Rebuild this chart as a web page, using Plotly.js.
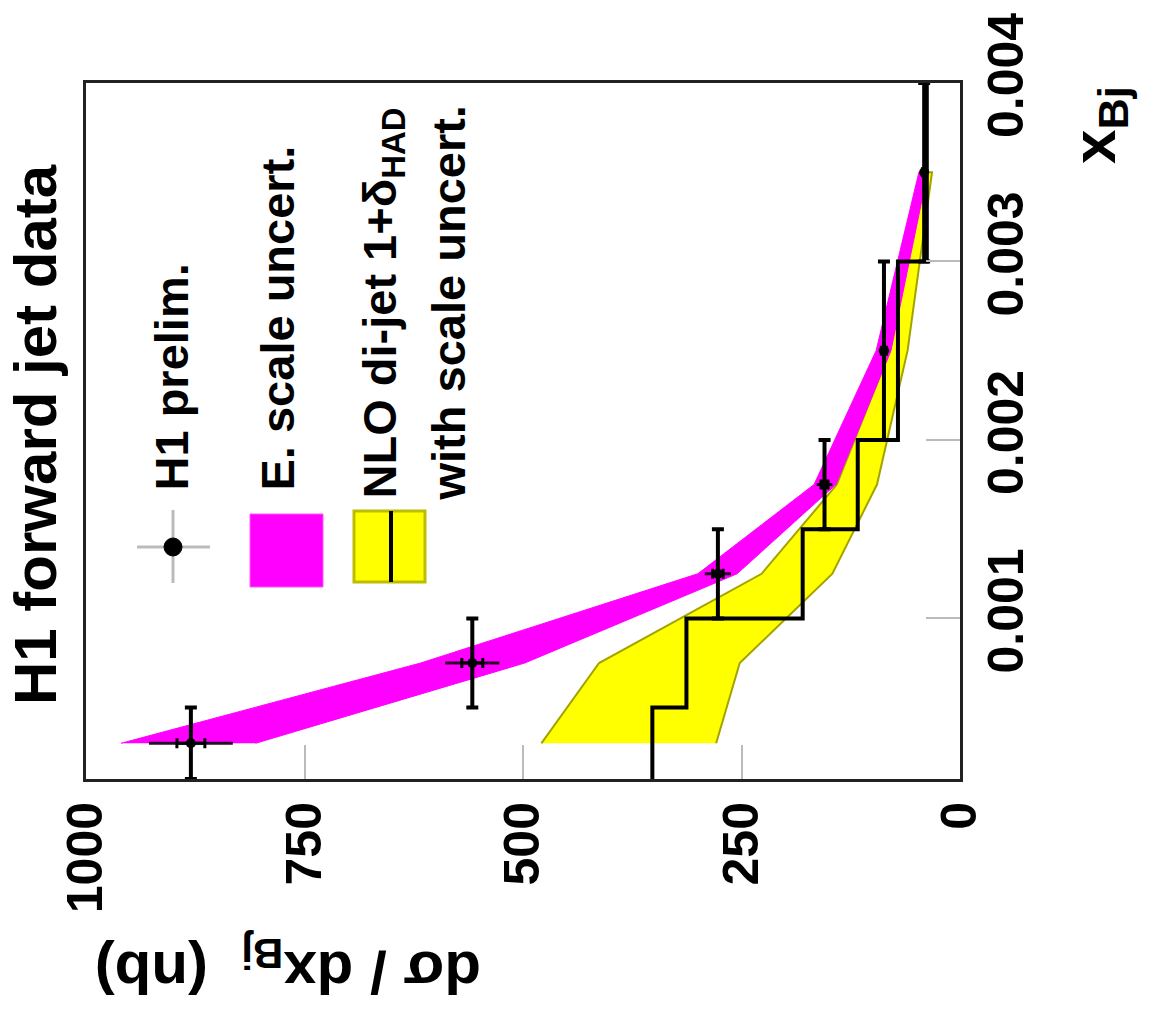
<!DOCTYPE html>
<html>
<head>
<meta charset="utf-8">
<script src="https://cdn.plot.ly/plotly-3.0.1.min.js"></script>
<style>
html,body{margin:0;padding:0;background:#fff;}
#chart{width:1151px;height:1025px;}
</style>
</head>
<body>
<div id="chart"></div>
<script>
// ---- data (x_Bj bins, cross sections in nb) ----
const binLo = [0.0001, 0.0005, 0.001, 0.0015, 0.002, 0.003];
const binHi = [0.0005, 0.001, 0.0015, 0.002, 0.003, 0.004];
const xBj   = [0.0003, 0.00075, 0.00125, 0.00175, 0.0025, 0.0035];
const h1Val  = [880, 558, 277, 155, 87, 41];
const h1Tot  = [48, 31, 15, 9, 6, 4];
const h1Stat = [16, 12, 6, 4, 3, 2];
const escUp = [960, 617, 300, 167, 96, 47];
const escDn = [806, 498, 255, 142, 79, 37];
const nloVal = [352, 313, 180, 117, 71, 38];
const nloUp  = [479, 413, 227, 141, 80, 42];
const nloDn  = [279, 252, 146, 95, 60, 32];
const sigTicks = [0, 250, 500, 750, 1000];
const sigTickText = ['0', '250', '500', '750', '1000'];
const xTicks = [0.001, 0.002, 0.003, 0.004];
const xTickText = ['0.001', '0.002', '0.003', '0.004'];

const FONT = 'Liberation Sans, Arial, Helvetica, sans-serif';

// plot area in page pixels (picture is the rotated H1 figure)
const L = 86, R = 960, T = 83, B = 779;
const px = v => (v - L) / (R - L);
const py = v => (B - v) / (B - T);

// bands as closed polygons
const escX = escUp.concat(escDn.slice().reverse());
const escY = xBj.concat(xBj.slice().reverse());
const nloBandX = nloUp.concat(nloDn.slice().reverse());
const nloBandY = xBj.concat(xBj.slice().reverse());

// step histogram
const stepX = [], stepY = [];
nloVal.forEach((v, i) => { stepX.push(v, v); stepY.push(binLo[i], binHi[i]); });

const binMinus = xBj.map((x, i) => x - binLo[i]);
const binPlus  = xBj.map((x, i) => binHi[i] - x);

const traces = [
  { x: nloBandX, y: nloBandY, type: 'scatter', mode: 'lines', fill: 'toself',
    fillcolor: '#ffff00', line: { color: '#a3a300', width: 2 }, hoverinfo: 'skip', showlegend: false },
  { x: escX, y: escY, type: 'scatter', mode: 'lines', fill: 'toself',
    fillcolor: '#ff00ff', line: { color: '#ff00ff', width: 1 }, hoverinfo: 'skip', showlegend: false },
  { x: stepX, y: stepY, type: 'scatter', mode: 'lines',
    line: { color: '#000', width: 4 }, showlegend: false },
  { x: h1Val, y: xBj, type: 'scatter', mode: 'markers',
    marker: { size: 1, color: '#000' },
    error_x: { type: 'data', array: h1Tot, visible: true, color: '#2a0a2a', thickness: 3, width: 0 },
    showlegend: false },
  { x: h1Val, y: xBj, type: 'scatter', mode: 'markers',
    marker: { size: 10, color: '#000' },
    error_x: { type: 'data', array: h1Stat, visible: true, color: '#000', thickness: 3, width: 5 },
    error_y: { type: 'data', symmetric: false, array: binPlus, arrayminus: binMinus, visible: true,
               color: '#000', thickness: 4, width: 6 },
    showlegend: false }
];

const ann = (text, x, y, size, angle, xa, ya) => ({
  text: text, xref: 'paper', yref: 'paper', x: px(x), y: py(y), showarrow: false,
  textangle: angle, xanchor: xa || 'center', yanchor: ya || 'middle', borderpad: 0,
  font: { family: FONT, size: size, color: '#000', weight: 'bold' }
});

const annotations = [
  ann('H1 forward jet data', 35, 435, 60, -90),
  ann('x<sub>Bj</sub>', 1098, 165, 62, -90, 'center', 'bottom'),
  ann('dσ / dx<sub>Bj</sub>&nbsp;&nbsp;(nb)', 288, 968, 60, 180),
  ann('H1 prelim.', 171, 492, 47, -90, 'center', 'bottom'),
  ann('E. scale uncert.', 277, 492, 47, -90, 'center', 'bottom'),
  ann('NLO di-jet 1+δ<sub>HAD</sub>', 382, 500, 47, -90, 'center', 'bottom'),
  ann('with scale uncert.', 448, 502, 47, -90, 'center', 'bottom')
];

const shp = (o) => Object.assign({ xref: 'paper', yref: 'paper' }, o);
const shapes = [
  shp({ type: 'line', x0: px(137), x1: px(210), y0: py(547), y1: py(547), line: { color: '#bbb', width: 3 } }),
  shp({ type: 'line', x0: px(173), x1: px(173), y0: py(510), y1: py(583), line: { color: '#bbb', width: 3 } }),
  shp({ type: 'circle', x0: px(164), x1: px(182), y0: py(538), y1: py(556), fillcolor: '#000', line: { color: '#000', width: 1 } }),
  shp({ type: 'rect', x0: px(250), x1: px(323), y0: py(514), y1: py(587), fillcolor: '#ff00ff', line: { color: '#ff55ff', width: 1 } }),
  shp({ type: 'rect', x0: px(354), x1: px(425), y0: py(511), y1: py(582), fillcolor: '#ffff00', line: { color: '#bdbd00', width: 3 } }),
  shp({ type: 'line', x0: px(391), x1: px(391), y0: py(511), y1: py(582), line: { color: '#000', width: 4 } })
];

const axisCommon = {
  showline: true, mirror: true, linecolor: '#222', linewidth: 3,
  showgrid: false, zeroline: false, ticks: 'inside', ticklen: 34, tickwidth: 2, tickcolor: '#bbb',
  tickangle: -90, tickmode: 'array',
  tickfont: { family: FONT, size: 50, color: '#000', weight: 'bold' }
};

const layout = {
  width: 1151, height: 1025,
  margin: { l: L, r: 1151 - R, t: T, b: 1025 - B, pad: 0 },
  paper_bgcolor: '#fff', plot_bgcolor: '#fff',
  showlegend: false,
  xaxis: Object.assign({}, axisCommon, { range: [1000, 0], tickvals: sigTicks, ticktext: sigTickText }),
  yaxis: Object.assign({}, axisCommon, { side: 'right', range: [0.0001, 0.004], tickvals: xTicks, ticktext: xTickText }),
  annotations: annotations,
  shapes: shapes
};

Plotly.newPlot('chart', traces, layout, { displayModeBar: false, staticPlot: true }).then(() => {
  document.querySelectorAll('#chart text').forEach(t => {
    if (!t.textContent.trim()) t.remove();
  });
});
</script>
</body>
</html>
